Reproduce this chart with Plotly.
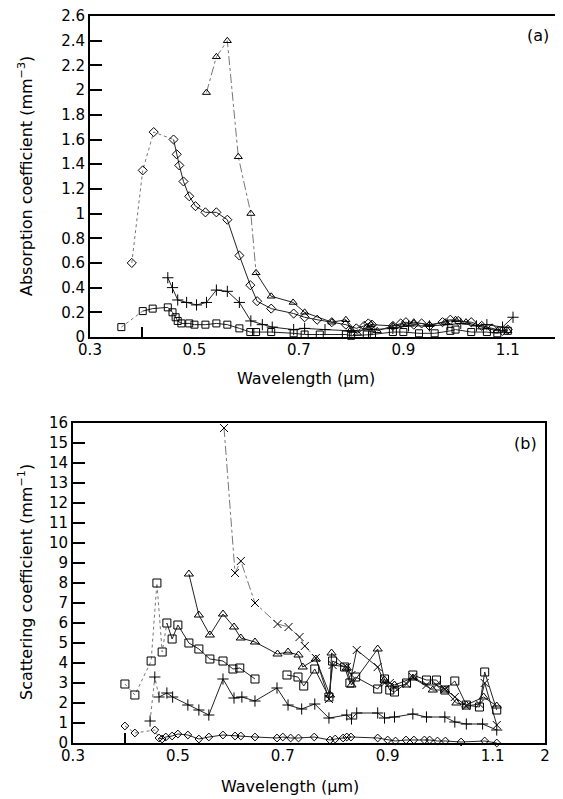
import plotly.graph_objects as go

# ---------------- Panel (a): absorption coefficient (mm^-3) ----------------
tri_a_x = [0.523, 0.542, 0.563, 0.584, 0.608, 0.618, 0.647, 0.689, 0.711, 0.763, 0.790, 0.800,
           0.812, 0.830, 0.838, 0.850, 0.880, 0.900, 0.920, 0.950, 0.980, 1.000, 1.020, 1.050,
           1.080, 1.100]
tri_a_y = [1.98, 2.27, 2.40, 1.46, 1.00, 0.52, 0.33, 0.28, 0.20, 0.12, 0.14, 0.06,
           0.03, 0.08, 0.10, 0.05, 0.09, 0.10, 0.12, 0.10, 0.12, 0.14, 0.12, 0.08,
           0.05, 0.05]

dia_a_x = [0.380, 0.401, 0.422, 0.460, 0.466, 0.471, 0.479, 0.490, 0.502, 0.521, 0.542, 0.563,
           0.586, 0.607, 0.620, 0.647, 0.690, 0.711, 0.735, 0.763, 0.790, 0.810, 0.825, 0.833,
           0.840, 0.880, 0.895, 0.905, 0.920, 0.935, 0.950, 0.975, 0.990, 1.005, 1.030, 1.050,
           1.070, 1.090, 1.100]
dia_a_y = [0.60, 1.35, 1.66, 1.60, 1.48, 1.39, 1.26, 1.14, 1.06, 1.01, 1.01, 0.95,
           0.66, 0.42, 0.29, 0.23, 0.19, 0.16, 0.14, 0.12, 0.10, 0.07, 0.09, 0.11,
           0.10, 0.09, 0.11, 0.12, 0.10, 0.11, 0.09, 0.12, 0.14, 0.13, 0.12, 0.09,
           0.07, 0.05, 0.06]

plus_a_x = [0.449, 0.458, 0.468, 0.485, 0.504, 0.523, 0.542, 0.563, 0.586, 0.608, 0.630, 0.649,
            0.690, 0.711, 0.750, 0.800, 0.840, 0.880, 0.910, 0.950, 0.985, 1.010, 1.040, 1.060,
            1.090, 1.110]
plus_a_y = [0.48, 0.40, 0.30, 0.28, 0.26, 0.28, 0.38, 0.37, 0.28, 0.13, 0.10, 0.08,
            0.06, 0.07, 0.06, 0.05, 0.06, 0.07, 0.09, 0.09, 0.10, 0.11, 0.09, 0.10,
            0.08, 0.16]

sq_a_x = [0.360, 0.401, 0.420, 0.449, 0.458, 0.464, 0.468, 0.475, 0.490, 0.500, 0.521, 0.542,
          0.563, 0.586, 0.607, 0.618, 0.647, 0.690, 0.711, 0.740, 0.790, 0.800, 0.830, 0.840,
          0.880, 0.900, 0.930, 0.960, 0.990, 1.000, 1.030, 1.060, 1.080, 1.100]
sq_a_y = [0.08, 0.21, 0.23, 0.24, 0.20, 0.16, 0.13, 0.11, 0.11, 0.10, 0.10, 0.11,
          0.10, 0.07, 0.04, 0.04, 0.04, 0.03, 0.02, 0.02, 0.02, 0.01, 0.02, 0.02,
          0.04, 0.04, 0.03, 0.03, 0.05, 0.06, 0.04, 0.04, 0.03, 0.05]

# ---------------- Panel (b): scattering coefficient (mm^-1) ----------------
x_b_x = [0.588, 0.609, 0.620, 0.647, 0.690, 0.711, 0.732, 0.742, 0.763, 0.788, 0.795, 0.822,
         0.831, 0.841, 0.881, 0.894, 0.904, 0.913, 0.936, 0.948, 0.974, 0.993, 1.009, 1.028,
         1.050, 1.075, 1.085, 1.108]
x_b_y = [15.75, 8.5, 9.1, 7.0, 5.95, 5.8, 5.3, 4.85, 4.25, 2.2, 3.9, 3.8,
         3.4, 4.65, 3.8, 3.0, 3.0, 2.8, 2.95, 3.3, 2.9, 2.9, 2.7, 2.3,
         1.85, 1.95, 3.0, 0.9]

tri_b_x = [0.521, 0.540, 0.561, 0.586, 0.607, 0.620, 0.647, 0.690, 0.710, 0.730, 0.738, 0.763,
           0.790, 0.793, 0.822, 0.831, 0.881, 0.894, 0.913, 0.948, 0.986, 1.009, 1.031, 1.050,
           1.083, 1.108]
tri_b_y = [8.45, 6.4, 5.4, 6.45, 5.8, 5.25, 5.05, 4.45, 4.55, 4.4, 3.8, 4.2,
           2.4, 4.5, 3.75, 2.9, 4.7, 3.15, 2.9, 3.25, 2.65, 2.65, 2.0, 1.9,
           2.3, 1.85]

sq_b_x = [0.399, 0.418, 0.449, 0.460, 0.470, 0.479, 0.489, 0.500, 0.521, 0.540, 0.561, 0.586,
          0.605, 0.618, 0.647, None, 0.708, 0.729, 0.740, 0.761, 0.788, 0.795, 0.818, 0.828,
          0.839, 0.881, 0.894, 0.904, 0.913, 0.936, 0.948, 0.974, 0.993, 1.009, 1.028, 1.050,
          1.075, 1.085, 1.108]
sq_b_y = [2.95, 2.4, 4.1, 8.0, 4.55, 6.0, 5.2, 5.9, 5.0, 4.7, 4.2, 4.1,
          3.7, 3.75, 3.2, None, 3.4, 3.3, 2.85, 3.7, 2.3, 4.1, 3.8, 3.0,
          3.3, 2.7, 3.2, 2.65, 2.55, 3.0, 3.4, 3.15, 3.15, 2.65, 3.1, 1.9,
          1.8, 3.55, 1.65]

plus_b_x = [0.447, 0.456, 0.464, 0.479, 0.490, 0.519, 0.540, 0.559, 0.586, 0.607, 0.622, 0.647,
            0.689, 0.710, 0.736, 0.761, 0.788, 0.822, 0.831, 0.841, 0.881, 0.894, 0.913, 0.948,
            0.974, 1.009, 1.028, 1.050, 1.081, 1.108]
plus_b_y = [1.1, 3.3, 2.3, 2.5, 2.3, 1.9, 1.65, 1.4, 3.2, 2.25, 2.3, 2.1,
            2.75, 1.9, 1.7, 1.95, 1.25, 1.4, 1.2, 1.5, 1.5, 1.25, 1.3, 1.45,
            1.3, 1.3, 1.05, 0.95, 0.95, 0.65]

dia_b_x = [0.399, 0.418, 0.456, 0.464, 0.470, 0.477, 0.489, 0.500, 0.519, 0.540, 0.559, 0.586,
           0.609, 0.620, 0.647, 0.689, 0.700, 0.715, 0.730, 0.760, 0.790, 0.800, 0.815, 0.822,
           0.830, 0.881, 0.900, 0.915, 0.935, 0.950, 0.970, 0.980, 0.995, 1.010, 1.040, 1.085,
           1.108]
dia_b_y = [0.85, 0.5, 0.65, 0.25, 0.2, 0.3, 0.35, 0.45, 0.4, 0.2, 0.3, 0.4,
           0.35, 0.35, 0.3, 0.25, 0.3, 0.25, 0.25, 0.3, 0.15, 0.2, 0.25, 0.3,
           0.3, 0.25, 0.15, 0.1, 0.15, 0.15, 0.15, 0.15, 0.1, 0.1, 0.05, 0.1,
           0.0]

# ---------------- tick labels ----------------
ya_vals = [0, 0.2, 0.4, 0.6, 0.8, 1, 1.2, 1.4, 1.6, 1.8, 2, 2.2, 2.4, 2.6]
ya_text = ["0", "0.2", "0.4", "0.6", "0.8", "1", "1.2", "1.4", "1.6", "1.8", "2", "2.2", "2.4", "2.6"]
yb_vals = list(range(0, 17))
yb_text = [str(v) for v in yb_vals]
xa_vals = [0.3, 0.5, 0.7, 0.9, 1.1]
xa_text = ["0.3", "0.5", "0.7", "0.9", "1.1"]
xb_vals = [0.3, 0.5, 0.7, 0.9, 1.1, 1.2]
xb_text = ["0.3", "0.5", "0.7", "0.9", "1.1", "2"]

FONT = "DejaVu Sans"
fig = go.Figure()


def add_series(x, y, symbol, size, xa, ya, split=0, dash_style="dot", main_dash="solid", main_color="#222"):
    if split > 0:
        fig.add_trace(go.Scatter(x=x[:split + 1], y=y[:split + 1], mode="lines", xaxis=xa, yaxis=ya,
                                 line=dict(color="#777", width=1, dash=dash_style),
                                 showlegend=False, hoverinfo="skip", cliponaxis=False))
    fig.add_trace(go.Scatter(x=x[split:], y=y[split:], mode="lines", xaxis=xa, yaxis=ya,
                             line=dict(color=main_color, width=1, dash=main_dash),
                             showlegend=False, hoverinfo="skip", cliponaxis=False, connectgaps=False))
    fig.add_trace(go.Scatter(x=x, y=y, mode="markers", xaxis=xa, yaxis=ya,
                             marker=dict(symbol=symbol, size=size, color="black",
                                         line=dict(color="black", width=1)),
                             showlegend=False, cliponaxis=False))


# panel (a)
add_series(tri_a_x, tri_a_y, "triangle-up-open", 7, "x", "y", split=5, dash_style="dashdot")
add_series(dia_a_x, dia_a_y, "diamond-open", 7, "x", "y", split=3, dash_style="dot")
add_series(plus_a_x, plus_a_y, "cross-thin-open", 8, "x", "y")
add_series(sq_a_x, sq_a_y, "square-open", 7, "x", "y", split=1, dash_style="dot")

# panel (b)
add_series(x_b_x, x_b_y, "x-thin-open", 8, "x2", "y2", split=8, dash_style="dashdot")
add_series(tri_b_x, tri_b_y, "triangle-up-open", 8, "x2", "y2")
add_series(sq_b_x, sq_b_y, "square-open", 8, "x2", "y2", split=5, dash_style="dot")
add_series(plus_b_x, plus_b_y, "cross-thin-open", 8, "x2", "y2", split=2, dash_style="dot")
add_series(dia_b_x, dia_b_y, "diamond-open", 6, "x2", "y2", split=3, dash_style="dot")

# page is offset by the default 8px body margin; layout is described in page pixels
OFF = 8
W, H = 563 - OFF, 799 - OFF


def px(x):
    return (x - OFF) / W


def py(y):
    return 1 - (y - OFF) / H


axis_common = dict(showline=True, linecolor="black", linewidth=2, mirror=True,
                   showgrid=False, zeroline=False, automargin=False,
                   ticklabeloverflow="allow",
                   tickfont=dict(family=FONT, size=15, color="black"))
xtick = dict(tickmode="array", ticks="", ticklabelstandoff=-2,
             minor=dict(tickvals=[0.4], ticks="inside", ticklen=10, tickwidth=1.5, tickcolor="black"))
ytick = dict(tickmode="array", ticks="inside", ticklen=12, tickwidth=1.5, tickcolor="black")

fig.update_layout(
    width=W, height=H,
    margin=dict(l=0, r=0, t=0, b=0, autoexpand=False),
    paper_bgcolor="white", plot_bgcolor="white",
    font=dict(family=FONT, color="black"),
    xaxis=dict(domain=[px(90), px(560)], range=[0.3, 1.2], anchor="y",
               tickvals=xa_vals, ticktext=xa_text, **xtick, **axis_common),
    yaxis=dict(domain=[py(337), py(16)], range=[0, 2.6005], anchor="x",
               tickvals=ya_vals, ticktext=ya_text, **ytick, **axis_common),
    xaxis2=dict(domain=[px(73), px(545)], range=[0.3, 1.2], anchor="y2",
                tickvals=xb_vals, ticktext=xb_text, **xtick, **axis_common),
    yaxis2=dict(domain=[py(743), py(423)], range=[0, 16.002], anchor="x2",
                tickvals=yb_vals, ticktext=yb_text, **ytick, **axis_common),
)

ann_font = dict(family=FONT, size=16, color="black")
common_ann = dict(xref="paper", yref="paper", showarrow=False, font=ann_font,
                  xanchor="center", yanchor="middle")
annotations = [
    dict(text="(a)", x=px(538), y=py(35), **common_ann),
    dict(text="(b)", x=px(525), y=py(443), **common_ann),
    dict(text="Wavelength (μm)", x=px(306), y=py(378), **common_ann),
    dict(text="Wavelength (μm)", x=px(290), y=py(786), **common_ann),
    dict(text="Absorption coefficient (mm<sup>−3</sup>)", x=px(25), y=py(176),
         textangle=-90, **common_ann),
    dict(text="Scattering coefficient (mm<sup>−1</sup>)", x=px(25), y=py(582),
         textangle=-90, **common_ann),
]
fig.update_layout(annotations=annotations)

fig.write_html("out.html")
